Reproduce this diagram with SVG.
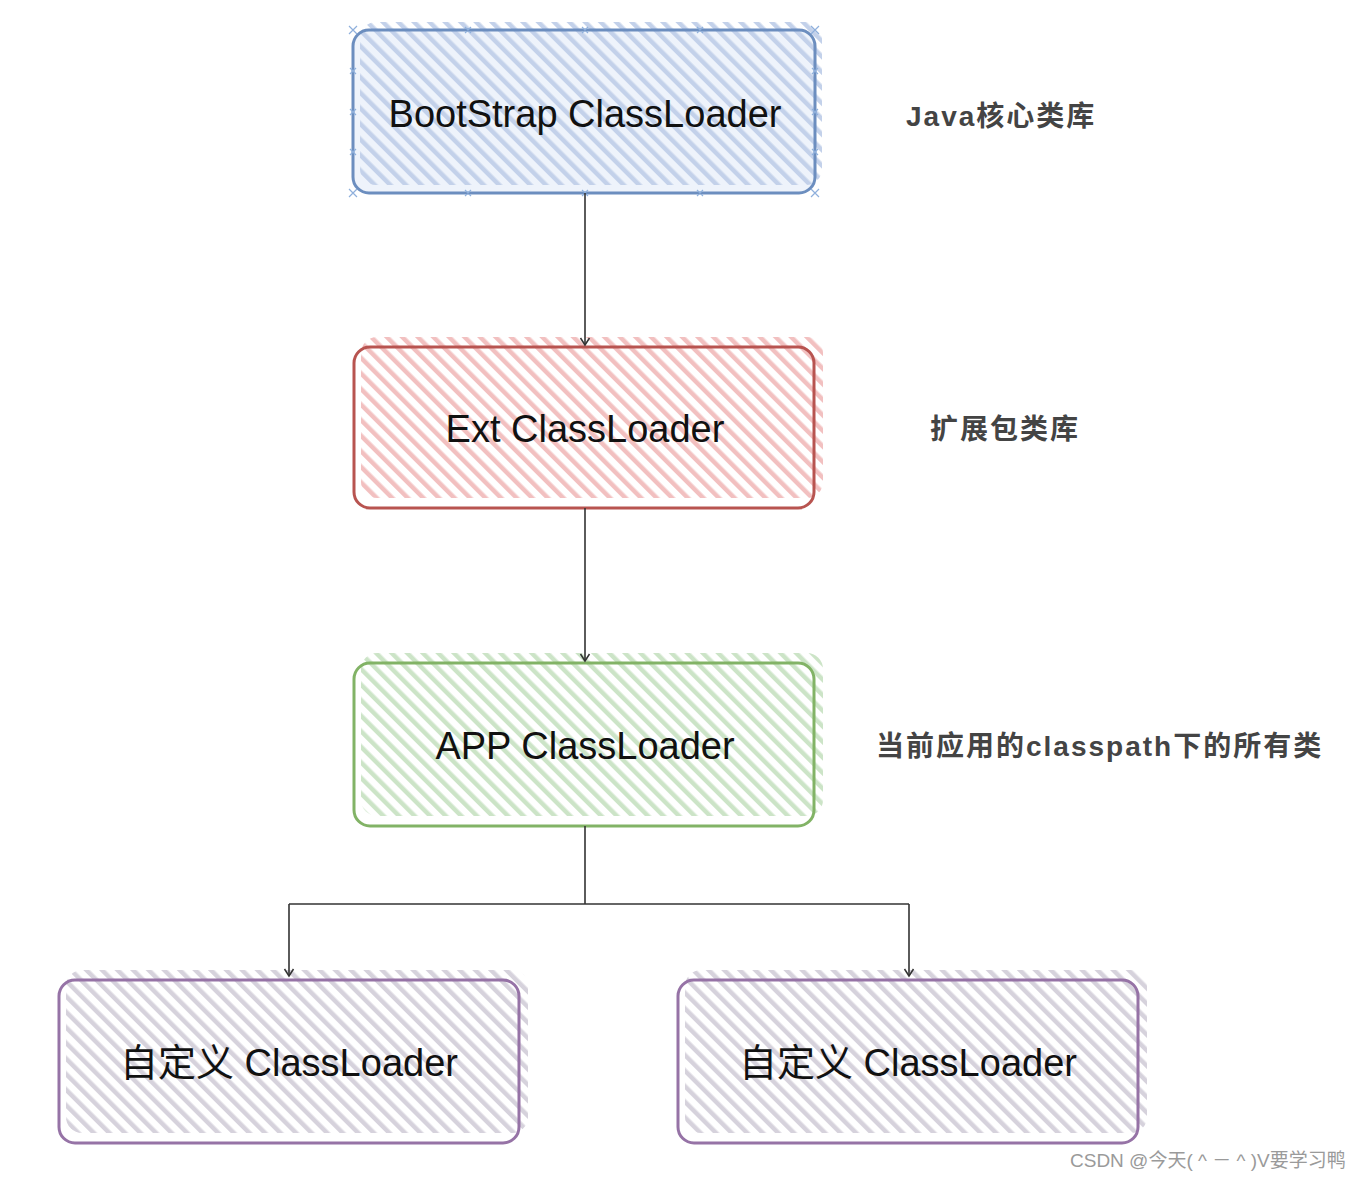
<svg xmlns="http://www.w3.org/2000/svg" width="1360" height="1179" viewBox="0 0 1360 1179">
<defs>
<pattern id="hBlue" patternUnits="userSpaceOnUse" width="11" height="11" patternTransform="rotate(-45)"><rect x="0" y="0" width="4.5" height="11" fill="#c3d1ea"/></pattern>
<pattern id="hRed" patternUnits="userSpaceOnUse" width="11" height="11" patternTransform="rotate(-45)"><rect x="0" y="0" width="4.5" height="11" fill="#f2c0c0"/></pattern>
<pattern id="hGreen" patternUnits="userSpaceOnUse" width="11" height="11" patternTransform="rotate(-45)"><rect x="0" y="0" width="4.5" height="11" fill="#cce4c7"/></pattern>
<pattern id="hPurple" patternUnits="userSpaceOnUse" width="11" height="11" patternTransform="rotate(-45)"><rect x="0" y="0" width="4.5" height="11" fill="#d6d2dc"/></pattern>
<marker id="arr" markerWidth="12" markerHeight="12" refX="10" refY="6" orient="auto" markerUnits="userSpaceOnUse" viewBox="0 0 12 12"><path d="M3,1.5 L10,6 L3,10.5" fill="none" stroke="#333" stroke-width="1.5"/></marker>
</defs>
<style>
.box{stroke-width:3;}
.lbl{font-family:"Liberation Sans","Noto Sans CJK SC",sans-serif;font-size:38px;fill:#111;text-anchor:middle;}
.side{font-family:"Liberation Sans","Noto Sans CJK SC",sans-serif;font-size:28px;font-weight:bold;fill:#444;letter-spacing:2px;}
.conn{stroke:#333;stroke-width:1.6;fill:none;}
.hx{stroke:#8fb0dc;stroke-width:1.2;}
.wm{font-family:"Liberation Sans","Noto Sans CJK SC",sans-serif;font-size:19px;fill:#9a9a9a;}
</style>
<rect width="1360" height="1179" fill="#ffffff"/>

<g id="node-bootstrap">
<rect x="353" y="30" width="462" height="163" rx="16" fill="#eef3fb"/>
<rect x="360" y="22" width="462" height="163" rx="16" fill="url(#hBlue)"/>
<rect class="box" x="353" y="30" width="462" height="163" rx="16" fill="none" stroke="#6c8ebf"/>
<g class="hx">
<path d="M349,26 l8,8 M357,26 l-8,8 M811,26 l8,8 M819,26 l-8,8 M349,189 l8,8 M357,189 l-8,8 M811,189 l8,8 M819,189 l-8,8"/>
<path d="M465,27 l6,6 M471,27 l-6,6 M582,27 l6,6 M588,27 l-6,6 M697,27 l6,6 M703,27 l-6,6"/>
<path d="M465,190 l6,6 M471,190 l-6,6 M582,190 l6,6 M588,190 l-6,6 M697,190 l6,6 M703,190 l-6,6"/>
<path d="M350,68 l6,6 M356,68 l-6,6 M350,109 l6,6 M356,109 l-6,6 M350,149 l6,6 M356,149 l-6,6"/>
<path d="M812,68 l6,6 M818,68 l-6,6 M812,109 l6,6 M818,109 l-6,6 M812,149 l6,6 M818,149 l-6,6"/>
</g>
<text class="lbl" x="585" y="127">BootStrap ClassLoader</text>
</g>

<g id="node-ext">
<rect x="361" y="337" width="462" height="161" rx="16" fill="url(#hRed)"/>
<rect class="box" x="354" y="347" width="460" height="161" rx="16" fill="none" stroke="#b85450"/>
<text class="lbl" x="585" y="442">Ext ClassLoader</text>
</g>

<g id="node-app">
<rect x="361" y="653" width="462" height="163" rx="16" fill="url(#hGreen)"/>
<rect class="box" x="354" y="663" width="460" height="163" rx="16" fill="none" stroke="#82b366"/>
<text class="lbl" x="585" y="759">APP ClassLoader</text>
</g>

<g id="node-custom1">
<rect x="66" y="970" width="462" height="163" rx="16" fill="url(#hPurple)"/>
<rect class="box" x="59" y="980" width="460" height="163" rx="16" fill="none" stroke="#9673a6"/>
<text class="lbl" x="289" y="1076">自定义 ClassLoader</text>
</g>

<g id="node-custom2">
<rect x="685" y="970" width="462" height="163" rx="16" fill="url(#hPurple)"/>
<rect class="box" x="678" y="980" width="460" height="163" rx="16" fill="none" stroke="#9673a6"/>
<text class="lbl" x="908" y="1076">自定义 ClassLoader</text>
</g>

<g id="connectors">
<path class="conn" d="M585,193 L585,345" marker-end="url(#arr)"/>
<path class="conn" d="M585,508 L585,661" marker-end="url(#arr)"/>
<path class="conn" d="M585,826 L585,904"/>
<path class="conn" d="M289,904 L909,904"/>
<path class="conn" d="M289,904 L289,976" marker-end="url(#arr)"/>
<path class="conn" d="M909,904 L909,976" marker-end="url(#arr)"/>
</g>

<g id="side-labels">
<text class="side" x="906" y="126">Java核心类库</text>
<text class="side" x="930" y="439">扩展包类库</text>
<text class="side" x="876" y="756">当前应用的classpath下的所有类</text>
</g>

<text class="wm" x="1070" y="1167">CSDN @今天( ^ － ^ )V要学习鸭</text>
</svg>
